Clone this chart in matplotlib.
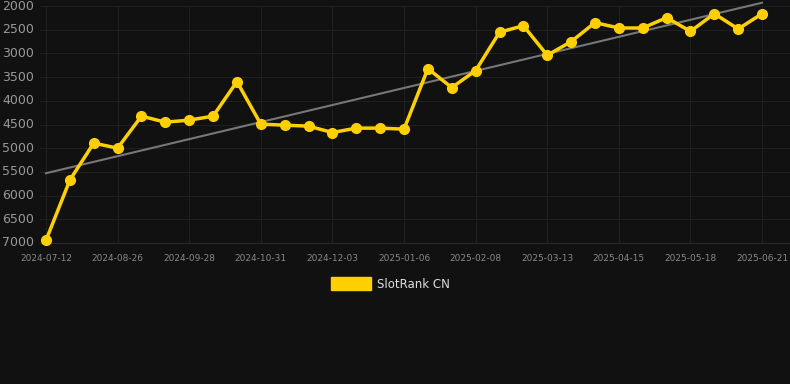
import numpy as np
import matplotlib
matplotlib.use('Agg')
import matplotlib.pyplot as plt
from matplotlib.patches import Patch

# rank values (lower is better, axis inverted)
ranks = [6945, 5673, 4893, 4999, 4324, 4451, 4408, 4324, 3595, 4493,
         4514, 4535, 4669, 4577, 4577, 4598, 3321, 3721, 3363, 2555,
         2415, 3039, 2752, 2351, 2464, 2464, 2246, 2535, 2162, 2485,
         2162]
tick_labels = ['2024-07-12', '2024-08-26', '2024-09-28', '2024-10-31',
               '2024-12-03', '2025-01-06', '2025-02-08', '2025-03-13',
               '2025-04-15', '2025-05-18', '2025-06-21']
y_ticks = [2000, 2500, 3000, 3500, 4000, 4500, 5000, 5500, 6000, 6500, 7000]

bg = '#111111'
yellow = '#FFD000'

x = np.arange(len(ranks))
fit = np.polyfit(x, ranks, 1)
trend = np.polyval(fit, x)

fig = plt.figure(figsize=(7.9, 3.84), dpi=100, facecolor=bg)
W, H = 790, 384
ax = fig.add_axes([40 / W, 1 - 243 / H, 750 / W, 237 / H])
ax.set_facecolor(bg)

ax.plot(x, trend, color='#777777', lw=1.5, zorder=2, clip_on=False)
ax.plot(x, ranks, color=yellow, lw=2.5, marker='o', ms=7, zorder=3, clip_on=False)

ax.set_ylim(7000, 2000)
ax.set_xlim(-0.25, 31.17)
ax.set_yticks(y_ticks)
ax.set_xticks(x[::3])
ax.set_xticklabels(tick_labels)

ax.grid(True, color='#1f1f1f', lw=0.8)
ax.set_axisbelow(True)
for s in ['top', 'right', 'left']:
    ax.spines[s].set_visible(False)
ax.spines['bottom'].set_color('#2a2a2a')
ax.tick_params(axis='y', length=0, colors='#999999', labelsize=9, pad=4)
ax.tick_params(axis='x', length=0, colors='#888888', labelsize=6.5, pad=8)
for lbl in ax.get_yticklabels():
    lbl.set_verticalalignment('center')

handle = Patch(facecolor=yellow, edgecolor=yellow)
fig.legend([handle], ['SlotRank CN'], loc='center', bbox_to_anchor=(390 / W, 1 - 284 / H),
           frameon=False, labelcolor='#dddddd', fontsize=8.5, handlelength=3.4,
           handleheight=1.2, handletextpad=0.5)

fig.savefig('out.png', facecolor=bg)
